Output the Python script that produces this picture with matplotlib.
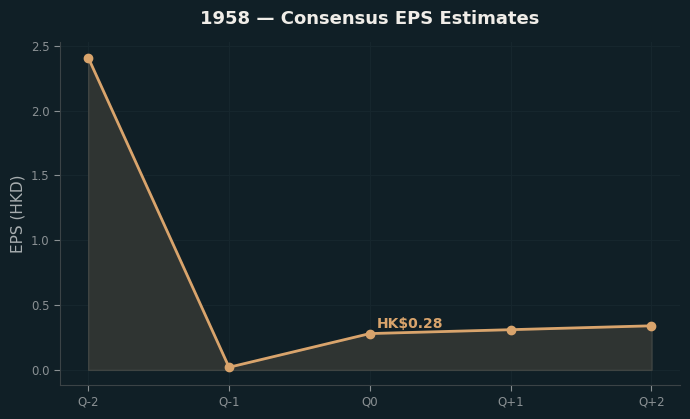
import matplotlib
matplotlib.use("Agg")
import matplotlib.pyplot as plt

quarters = ["Q-2", "Q-1", "Q0", "Q+1", "Q+2"]
eps = [2.41, 0.02, 0.28, 0.31, 0.34]

bg = "#101f26"
line_col = "#d9a46c"

fig, ax = plt.subplots(figsize=(6.9, 4.19), dpi=100)
fig.patch.set_facecolor(bg)
ax.set_facecolor(bg)

x = list(range(len(quarters)))
ax.fill_between(x, eps, 0, color="#2f3432", edgecolor="#3f4442", linewidth=1, zorder=1)
ax.plot(x, eps, color=line_col, linewidth=2, marker="o", markersize=6, zorder=3)

# label the current quarter
ax.annotate("HK$%.2f" % eps[2], (x[2], eps[2]), xytext=(5, 4), textcoords="offset points",
            color=line_col, fontsize=10, fontweight="bold")

ax.set_xticks(x)
ax.set_xticklabels(quarters)
ax.set_title("1958 — Consensus EPS Estimates", color="#f0ede8", fontsize=13,
             fontweight="bold", pad=13)
ax.set_ylabel("EPS (HKD)", color="#a8aeb0", fontsize=11)
ax.tick_params(colors="#8a9093", labelsize=8.5, length=4)
ax.grid(True, color="#16262d", linewidth=0.8)
ax.set_axisbelow(True)
for s in ["top", "right"]:
    ax.spines[s].set_visible(False)
for s in ["left", "bottom"]:
    ax.spines[s].set_color("#3b4346")

plt.subplots_adjust(left=0.087, right=0.985, top=0.9, bottom=0.08)
plt.savefig("out.png", facecolor=bg)
